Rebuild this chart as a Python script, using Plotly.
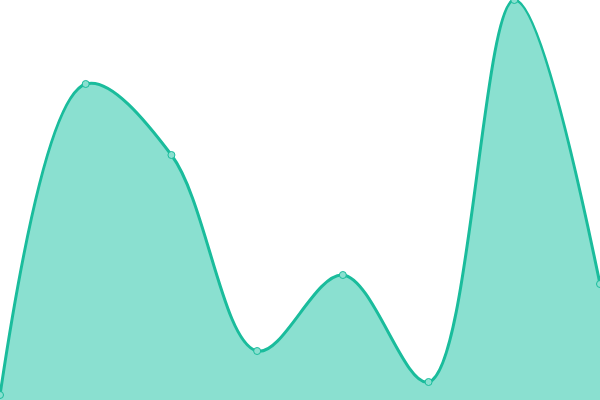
import plotly.graph_objects as go

categories = [0, 1, 2, 3, 4, 5, 6, 7]
values = [1.25, 79.0, 61.25, 12.25, 31.25, 4.5, 100.0, 29.0]

fig = go.Figure()
fig.add_trace(go.Scatter(
    x=categories, y=values,
    mode="lines+markers",
    line=dict(color="#1abc9c", width=3, shape="spline", smoothing=1),
    fill="tozeroy",
    fillcolor="#8ae0d0",
    marker=dict(size=7, color="#8ae0d0", line=dict(color="#1abc9c", width=1)),
    hoverinfo="skip",
    cliponaxis=False,
))
fig.update_layout(
    width=600, height=400,
    margin=dict(l=0, r=0, t=0, b=0),
    paper_bgcolor="white", plot_bgcolor="white",
    showlegend=False,
    xaxis=dict(range=[0, 7], visible=False, fixedrange=True),
    yaxis=dict(range=[0, 100], visible=False, fixedrange=True),
)
fig.write_html(
    "out.html",
    config={"displayModeBar": False},
    post_script="document.body.style.margin='0';document.body.style.overflow='hidden';",
)
